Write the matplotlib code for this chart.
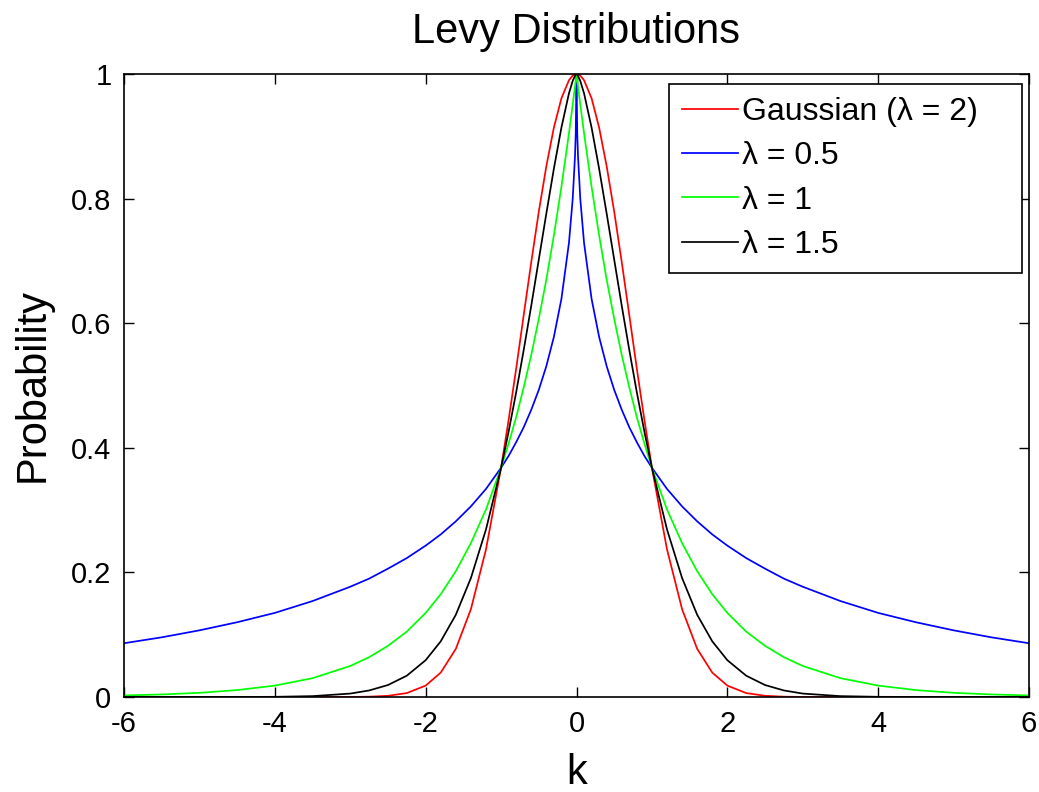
import numpy as np
import matplotlib
matplotlib.use("Agg")
import matplotlib.pyplot as plt
from matplotlib.ticker import FormatStrFormatter

plt.rcParams['font.family'] = ['Liberation Sans', 'DejaVu Sans']
plt.rcParams['axes.unicode_minus'] = False

## values, k >= 0 (curves are symmetric about k = 0)
k_pos = [0, 0.01, 0.02, 0.05, 0.1, 0.2, 0.3, 0.4, 0.5, 0.6, 0.7, 0.8, 0.9, 1.0,
         1.2, 1.4, 1.6, 1.8, 2.0, 2.25, 2.5, 2.75, 3.0, 3.5, 4.0, 4.5, 5.0, 5.5, 6.0]
gauss = [1.0, 0.9999, 0.9996, 0.9975, 0.990, 0.961, 0.914, 0.852, 0.779, 0.698, 0.613,
         0.527, 0.445, 0.368, 0.237, 0.141, 0.0773, 0.0392, 0.0183, 0.0063, 0.0019,
         0.0005, 0.0001, 0.0, 0.0, 0.0, 0.0, 0.0, 0.0]
lam05 = [1.0, 0.905, 0.868, 0.800, 0.729, 0.639, 0.578, 0.531, 0.493, 0.461, 0.433,
         0.409, 0.387, 0.368, 0.334, 0.306, 0.282, 0.261, 0.243, 0.223, 0.206, 0.190,
         0.177, 0.154, 0.135, 0.120, 0.107, 0.0958, 0.0863]
lam1 = [1.0, 0.990, 0.980, 0.951, 0.905, 0.819, 0.741, 0.670, 0.607, 0.549, 0.497,
        0.449, 0.407, 0.368, 0.301, 0.247, 0.202, 0.165, 0.135, 0.105, 0.0821, 0.0639,
        0.0498, 0.0302, 0.0183, 0.0111, 0.0067, 0.0041, 0.0025]
lam15 = [1.0, 0.999, 0.997, 0.989, 0.969, 0.914, 0.848, 0.776, 0.702, 0.628, 0.557,
         0.489, 0.426, 0.368, 0.269, 0.191, 0.132, 0.0894, 0.0591, 0.0342, 0.0192,
         0.0105, 0.0055, 0.0014, 0.0003, 0.0001, 0.0, 0.0, 0.0]

labels = ['Gaussian (λ = 2)', 'λ = 0.5', 'λ = 1', 'λ = 1.5']
colours = ['#ff0000', '#0000ff', '#00ff00', '#000000']


def mirror(v, sign=1):
    v = list(v)
    return [sign * x for x in v[::-1]] + v[1:]


k = mirror(k_pos, -1)

fig = plt.figure(figsize=(10.39, 7.92), dpi=100)
ax = fig.add_axes([124/1039, 1-697/792, (1029-124)/1039, (697-74)/792])

for series, lab, col in zip([gauss, lam05, lam1, lam15], labels, colours):
    ax.plot(k, mirror(series), color=col, lw=1.25, label=lab)

ax.set_xlim(-6, 6)
ax.set_ylim(0, 1)
ax.set_xticks(np.arange(-6, 7, 2))
ax.set_yticks(np.arange(0, 1.01, 0.2))
ax.yaxis.set_major_formatter(FormatStrFormatter('%g'))
ax.tick_params(direction='in', top=True, right=True, length=7, width=1,
               labelsize=21, pad=9)
for s in ax.spines.values():
    s.set_linewidth(1.2)

ax.set_title('Levy Distributions', fontsize=30, pad=22)
ax.set_xlabel('k', fontsize=30, labelpad=11)
ax.set_ylabel('Probability', fontsize=30, labelpad=13)

## legend box spans x 669..1022, top at y 84 (pixels)
leg = ax.legend(loc='upper left', bbox_to_anchor=((669-124)/905, 0.4, (1022-669)/905, 1 - 10/623 - 0.4),
                mode='expand', borderaxespad=0, fontsize=23, fancybox=False, edgecolor='k',
                framealpha=1, handlelength=1.75, handletextpad=0.15,
                labelspacing=0.45, borderpad=0.4)
leg.get_frame().set_linewidth(1.2)

fig.savefig('out.png', dpi=100)
